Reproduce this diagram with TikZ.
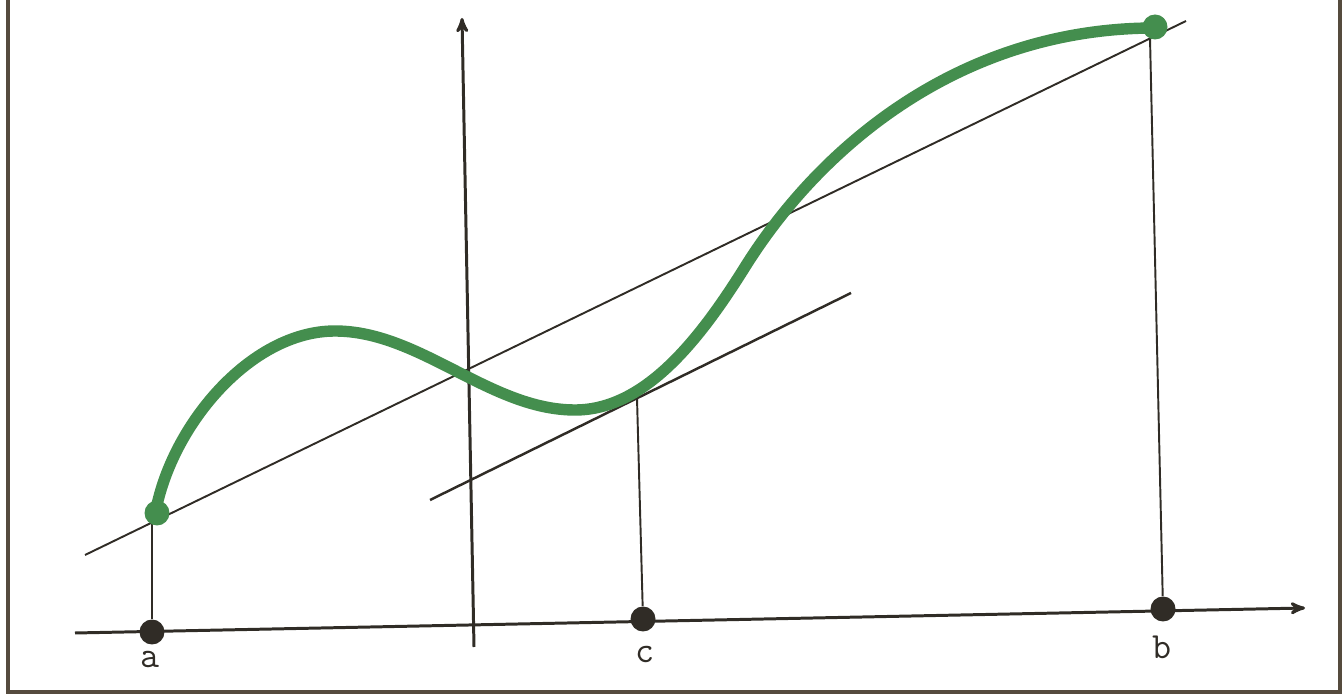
\documentclass[tikz,border=0pt]{standalone}
\usepackage{tikz}
\usetikzlibrary{arrows,positioning,calc}
\definecolor{ink}{RGB}{48,44,38}
\definecolor{frame}{RGB}{85,75,62}
\definecolor{curvegreen}{RGB}{68,142,78}
\tikzset{
  axisline/.style = {draw=ink, line width=1.7pt},
  thinline/.style = {draw=ink, line width=1.1pt},
  axisdot/.style  = {circle, fill=ink, minimum size=0.5cm, inner sep=0pt},
  enddot/.style   = {circle, fill=curvegreen, minimum size=0.5cm, inner sep=0pt},
  pointlabel/.style = {font=\ttfamily\fontsize{21}{24}\selectfont, text=ink}
}
\begin{document}
\begin{tikzpicture}[x=0.02cm,y=0.02cm]
  \useasboundingbox (0,0) rectangle (1343,697);
  %\draw[help lines,step=50] (0,0) grid (1343,697); % grid for coordinates

  % frame
  \draw[frame, line width=2.2pt] (8,697) -- (8,5) -- (1340,5) -- (1340,697);

  % axes
  \draw[axisline,-stealth'] (75,64) -- (1305,89); % x axis
  \draw[axisline,-stealth'] (474,50) -- (462,679); % y axis

  % points on the x axis
  \node[axisdot] (a) at (152,65) {};
  \node[axisdot] (c) at (643,78) {};
  \node[axisdot] (b) at (1163,88) {};
  \node[pointlabel] (la) at (150,38) {a};
  \node[pointlabel] (lc) at (645,43) {c};
  \node[pointlabel] (lb) at (1162,50) {b};

  % points on the graph
  \coordinate (A) at (152,174);
  \coordinate (C) at (637,299);
  \coordinate (B) at (1150,659);

  % secant and tangent
  \draw[thinline] (85,142) -- (1186,676);
  \draw[axisline, line width=1.4pt] (430,197) -- (851,404);

  % verticals
  \draw[thinline] (A) -- (a);
  \draw[thinline] (C) -- (c);
  \draw[thinline] (B) -- (b);

  % the graph
  \draw[curvegreen, line width=6.5pt, line cap=round]
    (155,182) .. controls (170,270) and (250,366) .. (335,366) % up to the hump
    .. controls (420,366) and (490,287) .. (575,287)           % down to the dip
    .. controls (645,287) and (700,358) .. (745,430)           % turn
    .. controls (820,550) and (960,669) .. (1155,669);         % up to b
  \node[enddot] (ga) at (157,184) {};
  \node[enddot] (gb) at (1155,670) {};
\end{tikzpicture}
\end{document}
